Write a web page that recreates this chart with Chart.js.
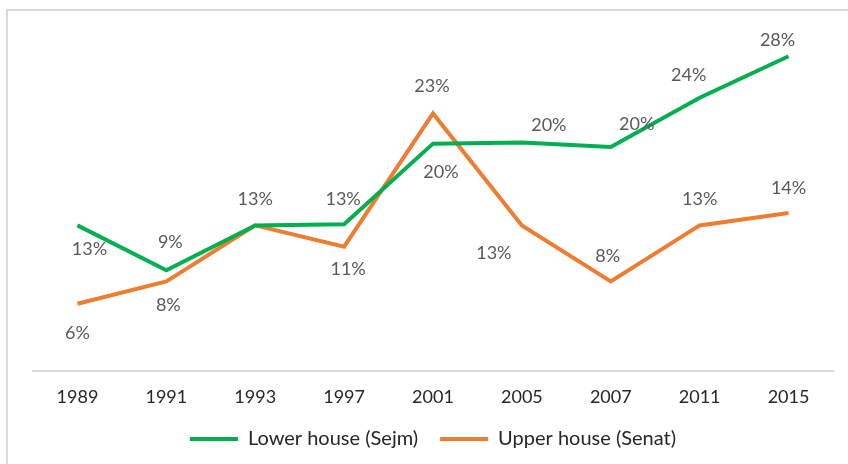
<!DOCTYPE html>
<html>
<head>
<meta charset="utf-8">
<script src="https://cdn.jsdelivr.net/npm/chart.js@4/dist/chart.umd.min.js"></script>
<style>
  html, body { margin: 0; padding: 0; background: #fff; }
  #wrap { position: relative; width: 848px; height: 464px; overflow: hidden; }
  #frame { position: absolute; left: 6px; top: 9px; width: 900px; height: 500px;
           border-top: 2px solid #d9d9d9; border-left: 2px solid #d9d9d9; }
  canvas { position: absolute; left: 0; top: 0; }
</style>
</head>
<body>
<div id="wrap">
  <div id="frame"></div>
  <canvas id="chart" width="848" height="464"></canvas>
</div>
<script>
const years = ['1989', '1991', '1993', '1997', '2001', '2005', '2007', '2011', '2015'];
const lowerHouse = [13.0, 9.0, 13.0, 13.1, 20.3, 20.4, 20.0, 24.4, 28.1];
const upperHouse = [6.0, 8.0, 13.0, 11.1, 23.0, 13.0, 8.0, 13.0, 14.1];

// where each value label sits relative to its point, [dx, dy]; null = no label
const lowerLabelOffsets = [[12,24],[4,-28],[0,-26],[-1,-25],[8,29],[27,-17],[26,-23],[-11,-23],[-11,-16]];
const upperLabelOffsets = [[0,29],[2,24],null,[4,23],[-1,-27],[-28,28],[-3,-25],[0,-26],[0,-25]];

const valueLabels = {
    id: 'valueLabels',
    afterDatasetsDraw(chart){
        const ctx = chart.ctx;
        ctx.save();
        ctx.font = '18px Lato';
        ctx.fillStyle = '#595959';
        ctx.textAlign = 'center';
        ctx.textBaseline = 'middle';
        chart.data.datasets.forEach((ds, i) => {
            const meta = chart.getDatasetMeta(i);
            meta.data.forEach((pt, j) => {
                const off = ds.labelOffsets[j];
                if(!off) return;
                ctx.fillText(Math.round(ds.data[j]) + '%', pt.x + off[0], pt.y + off[1]);
            });
        });
        ctx.restore();
    }
};

const ctx = document.getElementById('chart').getContext('2d');
const myChart = new Chart(ctx, {
    type: 'line',
    data: {
        labels: years,
        datasets: [{
            label: 'Lower house (Sejm)',
            data: lowerHouse,
            borderColor: '#00b050',
            backgroundColor: '#00b050',
            borderWidth: 4,
            pointRadius: 0,
            tension: 0,
            labelOffsets: lowerLabelOffsets
        }, {
            label: 'Upper house (Senat)',
            data: upperHouse,
            borderColor: '#ed7d31',
            backgroundColor: '#ed7d31',
            borderWidth: 4,
            pointRadius: 0,
            tension: 0,
            labelOffsets: upperLabelOffsets
        }]
    },
    options: {
        responsive: false,
        animation: false,
        layout: { padding: { left: 33, right: 15, top: 35, bottom: 5 } },
        scales: {
            x: {
                offset: true,
                grid: { display: false, drawTicks: false },
                border: { display: true, color: '#d9d9d9', width: 2 },
                ticks: { color: '#262626', font: { family: 'Lato', size: 18 }, padding: 15 },
                afterFit(scale){ scale.height = 36; }
            },
            y: {
                display: false,
                min: 0,
                max: 30
            }
        },
        plugins: {
            legend: {
                position: 'bottom',
                labels: {
                    usePointStyle: true,
                    pointStyle: 'line',
                    pointStyleWidth: 48,
                    color: '#262626',
                    font: { family: 'Lato', size: 20 },
                    padding: 22
                }
            },
            tooltip: { enabled: false }
        }
    },
    plugins: [valueLabels]
});
</script>
</body>
</html>
